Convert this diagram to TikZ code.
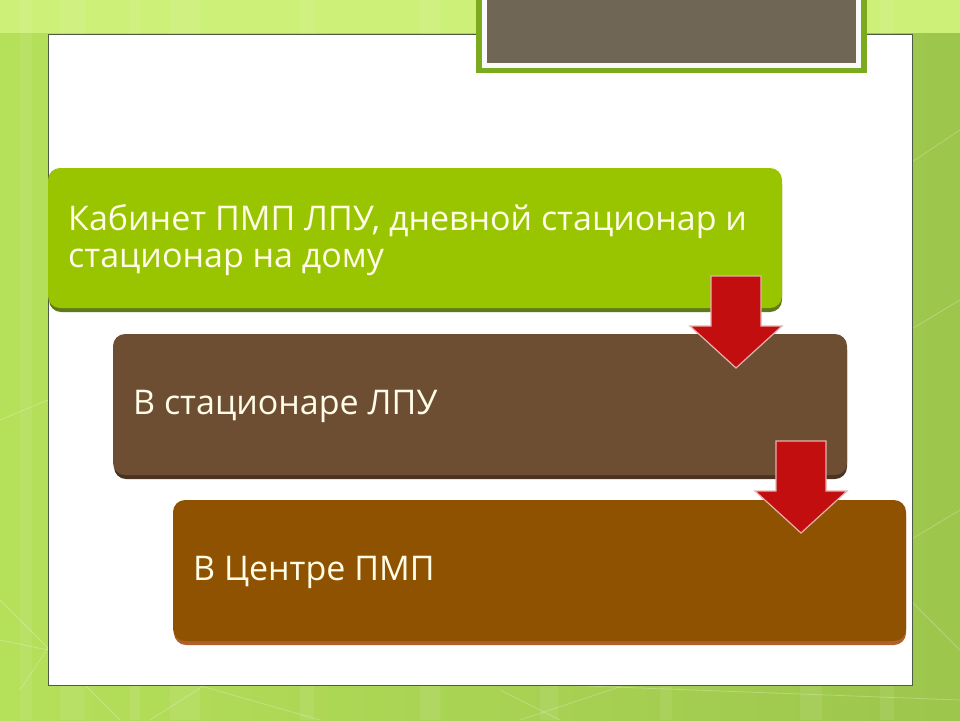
\documentclass[tikz,border=0pt]{standalone}
\usepackage{fontspec}
\setmainfont{Open Sans}
\usetikzlibrary{calc}
\definecolor{bgA}{HTML}{B5E05A}
\definecolor{bgB}{HTML}{9CC64C}
\definecolor{bandC}{HTML}{CCF078}
\definecolor{panelEdge}{HTML}{4F5A45}
\definecolor{topFill}{HTML}{706656}
\definecolor{topEdge}{HTML}{7BAA1E}
\definecolor{boxA}{HTML}{99C400}
\definecolor{boxAsh}{HTML}{5E7A1A}
\definecolor{boxB}{HTML}{6E4E33}
\definecolor{boxBsh}{HTML}{4A3322}
\definecolor{boxC}{HTML}{8F5200}
\definecolor{boxCsh}{HTML}{B0602A}
\definecolor{arrRed}{HTML}{C20E0E}
\definecolor{arrEdge}{HTML}{E8B0B0}
\definecolor{txt}{HTML}{FFFDE8}
\tikzset{
  x=1pt,y=-1pt,
  stepbox/.style={rounded corners=12pt},
  boxtext/.style={text=txt,font=\fontsize{34}{37}\selectfont,anchor=west,align=left,inner sep=0},
  redarrow/.style={fill=arrRed,draw=arrEdge,line width=1.2pt,line join=miter},
  deco/.style={draw=white,opacity=0.25,line width=0.8pt}
}
\begin{document}
\begin{tikzpicture}
\useasboundingbox (0,0) rectangle (960,720);
% background
\shade[left color=bgA,right color=bgB] (0,0) rectangle (960,720);
\fill[bandC] (0,0) rectangle (960,33);
\foreach \xx/\ww in {20/12,60/25,130/10,170/30,300/14,420/20,540/18,660/12,800/22,880/14}{
  \fill[white,opacity=0.08] (\xx,0) rectangle ++(\ww,720);
}
\draw[deco] (0,600) -- (120,720);
\draw[deco] (20,690) -- (80,600);
\draw[deco] (150,720) -- (260,650);
\draw[deco] (180,680) -- (320,720);
\draw[deco] (500,690) -- (560,720);
\draw[deco] (520,720) -- (640,680);
\draw[deco] (560,685) -- (960,700);
\draw[deco] (900,170) -- (960,130);
\draw[deco] (910,330) -- (960,300);
\draw[deco] (910,540) -- (960,510);
\draw[deco] (910,600) -- (960,650);
\draw[deco] (0,420) -- (48,400);
\draw[deco] (0,640) -- (48,650);
% white panel
\fill[white] (48,34) rectangle (912,685);
\draw[panelEdge,line width=1pt] (48,34) rectangle (912,685);
% title box
\fill[topEdge] (476,0) rectangle (867,73);
\fill[white!95!gray] (482,0) rectangle (861,68);
\fill[topFill] (487,0) rectangle (856,63);
% boxes with shadows
\fill[boxAsh,stepbox] (49,172) rectangle (782,312);
\fill[boxA,stepbox] (48,168) rectangle (782,308);
\node[boxtext] (t1) at (68,240) {Кабинет ПМП ЛПУ, дневной стационар и\\стационар на дому};
\fill[boxBsh,stepbox] (114,338) rectangle (847,479);
\fill[boxB,stepbox] (113,334) rectangle (847,475);
\node[boxtext] (t2) at (133,406) {В стационаре ЛПУ};
\fill[boxCsh,stepbox] (174,504) rectangle (906,645);
\fill[boxC,stepbox] (173,500) rectangle (906,641);
\node[boxtext] (t3) at (193,572) {В Центре ПМП};
% arrows
\draw[redarrow] (711,276) -- (761,276) -- (761,326) -- (782,326) -- (736,368) -- (690,326) -- (711,326) -- cycle;
\draw[redarrow] (776,441) -- (826,441) -- (826,491) -- (847,491) -- (801,533) -- (755,491) -- (776,491) -- cycle;
\end{tikzpicture}
\end{document}
